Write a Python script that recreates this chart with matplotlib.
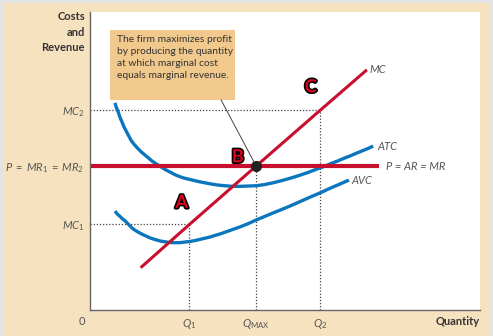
import matplotlib.pyplot as plt
import matplotlib.patheffects as pe
from matplotlib.patches import Rectangle

plt.rcParams['font.family'] = ['Lato', 'DejaVu Sans']
plt.rcParams['mathtext.fontset'] = 'custom'
plt.rcParams['mathtext.rm'] = 'Lato'
plt.rcParams['mathtext.it'] = 'Lato:italic'
plt.rcParams['mathtext.bf'] = 'Lato:bold'

# quantities and price levels
q1 = 25.4
q_max = 42.6
q2 = 59.0
price = 48.3
mc1 = 28.9
mc2 = 67.1

# marginal cost (straight line)
mc_q = [13.0, q1, q_max, q2, 71.0]
mc_c = [14.2, 28.6, 48.3, 67.0, 80.6]

# price / marginal revenue line
p_q = [0.0, 74.0]
p_c = [price, price]

# average total cost
atc_q = [6.4, 6.8, 7.3, 7.7, 8.2, 8.7, 9.3, 9.9, 10.5, 11.3, 12.2, 13.1, 14.1, 15.0,
         15.9, 16.9, 17.9, 19.2, 20.5, 21.8, 23.1, 24.3, 25.6, 26.9, 28.2,
         29.8, 31.4, 33.0, 34.6, 36.6, 38.6, 40.6, 42.6, 44.8, 47.0, 49.1, 51.3,
         53.5, 55.8, 58.0, 60.3, 61.9, 63.5, 65.1, 66.7, 68.1, 69.6, 71.1, 72.6]
atc_c = [69.5, 67.8, 66.2, 64.6, 63.1, 61.5, 60.0, 58.5, 57.0, 55.6, 54.3, 53.1, 52.0, 51.0,
         50.0, 49.1, 48.3, 47.2, 46.3, 45.4, 44.7, 44.2, 43.8, 43.4, 43.0,
         42.6, 42.2, 41.9, 41.7, 41.5, 41.5, 41.6, 41.7, 42.1, 42.7, 43.4, 44.2,
         45.1, 46.1, 47.2, 48.3, 49.2, 50.0, 50.9, 51.7, 52.5, 53.3, 54.1, 55.0]

# average variable cost
avc_q = [6.4, 7.0, 7.7, 8.3, 9.0, 9.6, 10.2, 10.8, 11.5, 12.4, 13.4, 14.4, 15.4, 16.3,
         17.3, 18.2, 19.2, 20.2, 21.2, 22.1, 23.1, 24.3, 25.6, 26.9, 28.2, 29.5,
         30.8, 32.0, 33.3, 34.6, 35.9, 37.2, 38.5, 40.6, 42.6, 44.8, 47.0, 49.1,
         51.3, 53.2, 55.1, 57.0, 59.0, 60.8, 62.7, 64.5, 66.4]
avc_c = [33.2, 32.2, 31.4, 30.6, 29.9, 29.1, 28.3, 27.5, 26.8, 26.1, 25.4, 24.8, 24.2, 23.8,
         23.4, 23.1, 22.9, 22.7, 22.6, 22.6, 22.6, 22.8, 23.0, 23.3, 23.7, 24.1,
         24.5, 25.0, 25.5, 26.1, 26.7, 27.3, 27.9, 29.0, 30.2, 31.4, 32.6, 33.7,
         34.9, 36.0, 37.1, 38.2, 39.3, 40.4, 41.5, 42.5, 43.6]

beige = '#f7e2c0'
red = '#c8102e'
blue = '#0a76bd'
gray_txt = '#555555'

fig = plt.figure(figsize=(4.93, 3.36), dpi=100, facecolor=beige)
ax = fig.add_axes([90 / 493, 26 / 336, 390 / 493, 298 / 336])
ax.set_facecolor('white')
ax.set_xlim(0, 100)
ax.set_ylim(0, 100)

# grey frame strips around the page
for x, y, w, h in [(0, 333, 493, 3), (0, 0, 3, 336), (490, 0, 3, 336)]:
    fig.add_artist(Rectangle((x / 493, y / 336), w / 493, h / 336,
                             transform=fig.transFigure, color='#e4e4e4', lw=0))

for s in ['top', 'right']:
    ax.spines[s].set_visible(False)
for s in ['left', 'bottom']:
    ax.spines[s].set_color('#666666')
    ax.spines[s].set_linewidth(1.0)

# dotted guides
dot = dict(color='#444444', lw=0.9, ls=(0, (1, 1.5)))
ax.plot([0, q2], [mc2, mc2], **dot)
ax.plot([q2, q2], [0, mc2], **dot)
ax.plot([0, q1], [mc1, mc1], **dot)
ax.plot([q1, q1], [0, mc1], **dot)
ax.plot([q_max, q_max], [0, price], **dot)

# cost curves
ax.plot(atc_q, atc_c, color=blue, lw=2.4, solid_capstyle='butt')
ax.plot(avc_q, avc_c, color=blue, lw=2.4, solid_capstyle='butt')
ax.plot(p_q, p_c, color=red, lw=3.0, solid_capstyle='butt')
ax.plot(mc_q, mc_c, color=red, lw=2.2, solid_capstyle='butt')

# callout box and leader line
ax.add_patch(Rectangle((5.1, 70.5), 32.1, 23.5, facecolor='#f2c98d', edgecolor='none'))
ax.text(6.9, 92.3, "The firm maximizes profit\nby producing the quantity\n"
        "at which marginal cost\nequals marginal revenue.",
        ha='left', va='top', fontsize=7.4, color='#333333', linespacing=1.45)
ax.plot([33.6, q_max], [70.5, price], color='#444444', lw=0.7)
ax.plot([q_max], [price], 'o', color='#222222', ms=7, zorder=5)

# curve labels
lab = dict(fontsize=8, color=gray_txt, va='center', ha='left', style='italic')
ax.text(mc_q[-1] + 0.6, mc_c[-1], 'MC', **lab)
ax.text(atc_q[-1] + 1.0, atc_c[-1], 'ATC', **lab)
ax.text(p_q[-1] + 2.0, price, 'P = AR = MR', **lab)
ax.text(avc_q[-1] + 0.6, avc_c[-1], 'AVC', **lab)

# region letters
stroke = [pe.withStroke(linewidth=2.4, foreground='black')]
for letter, x, y in [('A', 23.5, 36.1), ('B', 37.9, 51.4), ('C', 56.6, 74.9)]:
    ax.text(x, y, letter, fontsize=13, fontweight='bold', color='#e5001c',
            ha='center', va='center', path_effects=stroke)

# axis labels
ax.set_xticks([q1, q_max, q2])
ax.set_xticklabels([r'$Q_1$', r'$Q_{\mathrm{MAX}}$', r'$Q_2$'])
ax.set_yticks([mc1, price, mc2])
ax.set_yticklabels([r'$MC_1$', r'$P\;=\;MR_1\;=\;MR_2$', r'$MC_2$'])
ax.tick_params(length=0, labelsize=8, labelcolor=gray_txt)
ax.tick_params(axis='x', pad=5)
ax.tick_params(axis='y', pad=4)

ax.text(1.0, -0.04, 'Quantity', transform=ax.transAxes, ha='right', va='center',
        fontsize=8, fontweight='bold', color='#333333')
ax.text(-0.02, -0.04, '0', transform=ax.transAxes, ha='center', va='center',
        fontsize=8, color=gray_txt)
fig.text(85 / 493, 1 - 11 / 336, 'Costs\nand\nRevenue', ha='right', va='top',
         fontsize=8, fontweight='bold', color='#333333', linespacing=1.5)

fig.savefig('out.png', dpi=100, facecolor=beige)
